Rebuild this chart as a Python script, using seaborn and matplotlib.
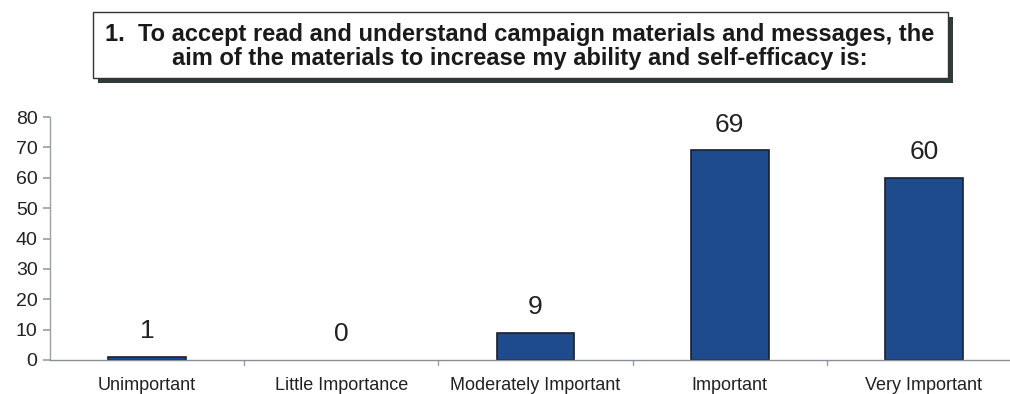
import matplotlib
matplotlib.use("Agg")
import matplotlib.pyplot as plt
from matplotlib.patches import Rectangle
import seaborn as sns
import pandas as pd

categories = ["Unimportant", "Little Importance", "Moderately Important", "Important", "Very Important"]
counts = [1, 0, 9, 69, 60]
yticks = [0, 10, 20, 30, 40, 50, 60, 70, 80]
title_lines = ["1.  To accept read and understand campaign materials and messages, the",
               "aim of the materials to increase my ability and self-efficacy is:"]

sns.set_theme(style="white")
plt.rcParams["font.family"] = ["Liberation Sans", "DejaVu Sans"]

W, H = 1010, 394
fig = plt.figure(figsize=(W / 100, H / 100), dpi=100)
fig.patch.set_facecolor("white")

def px(x0, y0, x1, y1):
    return [x0 / W, 1 - y1 / H, (x1 - x0) / W, (y1 - y0) / H]

ax = fig.add_axes(px(50, 117, 1021, 360))
df = pd.DataFrame({"category": categories, "count": counts})
sns.barplot(data=df, x="category", y="count", ax=ax, color="#1d4b8c",
            width=0.4, edgecolor="#1a1f2e", linewidth=1.2, saturation=1)
# a zero-height bar leaves no visible outline
for patch, v in zip(ax.patches, counts):
    if v == 0:
        patch.set_edgecolor("none")

ax.set_xlim(-0.5, 4.5)
ax.set_ylim(0, 80)
ax.set_yticks(yticks)
ax.set_xlabel("")
ax.set_ylabel("")
for s in ["top", "right"]:
    ax.spines[s].set_visible(False)
ax.spines["left"].set_color("#9aa0a6")
ax.spines["bottom"].set_color("#8a8f95")
ax.spines["left"].set_linewidth(1)
ax.spines["bottom"].set_linewidth(1)
ax.tick_params(axis="y", left=True, length=5, color="#9aa0a6", labelsize=14, pad=4, labelcolor="#222222")
ax.tick_params(axis="x", bottom=False, labelsize=13, pad=6, labelcolor="#222222")
# category boundary ticks on the x axis
for b in [0.5, 1.5, 2.5, 3.5]:
    ax.plot([b, b], [0, -1.5], color="#8aa0b5", lw=1, clip_on=False)

for i, v in enumerate(counts):
    ax.text(i, v + 8.5, str(v), ha="center", va="center", fontsize=19, color="#222222")

# title box with drop shadow
shadow = Rectangle((98 / W, 1 - 83 / H), (948 - 93) / W, (78 - 12) / H,
                   transform=fig.transFigure, facecolor="#2f3a3a", edgecolor="none", zorder=1)
box = Rectangle((93 / W, 1 - 78 / H), (948 - 93) / W, (78 - 12) / H,
                transform=fig.transFigure, facecolor="white", edgecolor="#333333", lw=1, zorder=2)
fig.patches.extend([shadow, box])
fig.text(520 / W, 1 - 34 / H, title_lines[0], ha="center", va="center",
         fontsize=17, fontweight="bold", color="#1a1a1a", zorder=3)
fig.text(520 / W, 1 - 59 / H, title_lines[1], ha="center", va="center",
         fontsize=17, fontweight="bold", color="#1a1a1a", zorder=3)

fig.savefig("out.png", dpi=100)
